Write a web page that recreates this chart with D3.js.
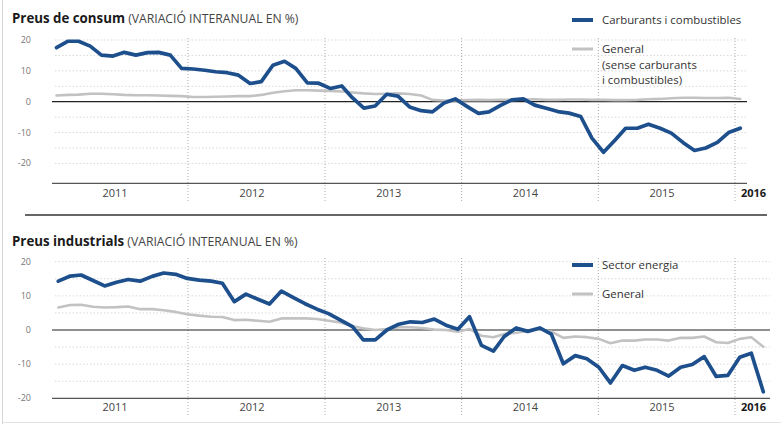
<!DOCTYPE html>
<html>
<head>
<meta charset="utf-8">
<script src="https://cdn.jsdelivr.net/npm/d3@7"></script>
<style>
  html, body { margin: 0; padding: 0; background: #fff; }
  svg { display: block; font-family: "Open Sans", "Noto Sans", sans-serif; }
</style>
</head>
<body>
<svg id="chart" width="781" height="424"></svg>
<script>
// ---------- DATA ----------
const years = ["2011", "2012", "2013", "2014", "2015"];
const lastYear = "2016";
const yTicks = [20, 10, 0, -10, -20];
const gridValues = [20, 15, 10, 5, -5, -10, -15, -20];

// Monthly, Jan 2011 .. Jan 2016
const consumFuel = [
  17.5, 19.6, 19.6, 18.0, 15.1, 14.8, 16.0, 15.1, 15.9, 16.0, 15.1, 10.8,
  10.6, 10.2, 9.7, 9.4, 8.6, 5.9, 6.5, 11.8, 13.1, 10.8, 6.1, 6.0,
  4.3, 5.1, 1.3, -2.1, -1.4, 2.4, 1.8, -1.7, -2.9, -3.3, -0.4, 0.9,
  -1.5, -3.8, -3.3, -1.2, 0.6, 0.9, -1.1, -2.1, -3.2, -3.7, -4.8, -11.8,
  -16.4, -12.4, -8.6, -8.6, -7.3, -8.6, -10.2, -13.2, -15.8, -15.0, -13.2, -10.0,
  -8.6
];
const consumGeneral = [
  2.0, 2.2, 2.3, 2.6, 2.6, 2.4, 2.2, 2.1, 2.1, 2.0, 1.9, 1.8,
  1.5, 1.5, 1.6, 1.7, 1.8, 1.8, 2.2, 2.9, 3.4, 3.7, 3.7, 3.6,
  3.5, 3.3, 3.0, 2.7, 2.5, 2.6, 2.7, 2.5, 2.0, 0.6, 0.4, 0.4,
  0.5, 0.6, 0.5, 0.6, 0.6, 0.7, 0.8, 0.6, 0.6, 0.7, 0.7, 0.6,
  0.6, 0.5, 0.5, 0.6, 0.8, 0.9, 1.1, 1.3, 1.3, 1.2, 1.2, 1.3,
  0.9
];
const industEnergy = [
  14.3, 15.8, 16.1, 14.5, 12.9, 14.0, 14.8, 14.3, 15.7, 16.7, 16.3, 15.1,
  14.6, 14.3, 13.7, 8.3, 10.5, 9.0, 7.6, 11.4, 9.5, 7.7, 6.1, 4.8,
  2.9, 1.0, -2.9, -2.9, 0.0, 1.7, 2.4, 2.2, 3.2, 1.4, 0.2, 3.9,
  -4.5, -6.2, -1.9, 0.6, -0.4, 0.6, -1.2, -9.9, -7.5, -8.4, -10.9, -15.5,
  -10.4, -11.8, -10.9, -11.8, -13.5, -10.9, -10.1, -7.8, -13.6, -13.3, -8.0, -6.8,
  -18.1
];
const industGeneral = [
  6.6, 7.3, 7.4, 6.8, 6.6, 6.7, 6.9, 6.1, 6.1, 5.8, 5.3, 4.6,
  4.2, 3.9, 3.8, 2.9, 3.0, 2.7, 2.4, 3.4, 3.4, 3.4, 3.2, 2.7,
  2.2, 1.1, 0.5, 0.0, 0.3, 0.8, 0.8, 0.6, 0.1, 0.0, -0.5, 0.3,
  -1.7, -2.1, -1.2, -0.8, -0.3, 0.2, -0.5, -2.3, -1.9, -2.1, -2.6, -3.9,
  -3.1, -3.1, -2.8, -2.8, -3.1, -2.3, -2.3, -1.9, -3.6, -3.8, -2.6, -2.1,
  -4.9
];

const months = d3.range(consumFuel.length).map(i => new Date(2011, i, 15));

const panels = [
  {
    title: "Preus de consum", sub: "(VARIACIÓ INTERANUAL EN %)",
    titleY: 23, yTop: 40, yBot: 163.4, axisVal: -26.5, xEnd: 747,
    dataRange: [56.5, 740.2],
    series: [
      { values: consumGeneral, color: "#c2c2c2", width: 2.6 },
      { values: consumFuel, color: "#1d4f8c", width: 3.7 }
    ],
    legend: [
      { lines: ["Carburants i combustibles"], color: "#1d4f8c", width: 4, y: 20 },
      { lines: ["General", "(sense carburants", "i combustibles)"], color: "#c2c2c2", width: 3, y: 49 }
    ],
    vTop: 38, vBot: 201, labelY: 197
  },
  {
    title: "Preus industrials", sub: "(VARIACIÓ INTERANUAL EN %)",
    titleY: 246, yTop: 261.7, yBot: 398.3, axisVal: -20, xEnd: 770,
    dataRange: [58.3, 763.3],
    series: [
      { values: industGeneral, color: "#c2c2c2", width: 2.6 },
      { values: industEnergy, color: "#1d4f8c", width: 3.7 }
    ],
    legend: [
      { lines: ["Sector energia"], color: "#1d4f8c", width: 4, y: 265 },
      { lines: ["General"], color: "#c2c2c2", width: 3, y: 294 }
    ],
    vTop: 258, vBot: 415, labelY: 411
  }
];

const svg = d3.select("#chart");

// frame
svg.append("line").attr("x1", 2.5).attr("x2", 2.5).attr("y1", 0).attr("y2", 424)
  .attr("stroke", "#d6d6d6").attr("stroke-width", 1);
svg.append("line").attr("x1", 2.5).attr("x2", 781).attr("y1", 422.5).attr("y2", 422.5)
  .attr("stroke", "#e2e2e2").attr("stroke-width", 1);
// separator
svg.append("line").attr("x1", 25).attr("x2", 767).attr("y1", 215).attr("y2", 215)
  .attr("stroke", "#333").attr("stroke-width", 1.6);

// shared calendar scale for year separators and labels
const xYear = d3.scaleTime()
  .domain([new Date(2011, 0, 1), new Date(2016, 0, 1)])
  .range([51.25, 735]);

panels.forEach(p => {
  const y = d3.scaleLinear().domain([-20, 20]).range([p.yBot, p.yTop]);
  const xData = d3.scaleTime().domain([months[0], months[months.length - 1]]).range(p.dataRange);
  const g = svg.append("g");

  // title
  const t = g.append("text").attr("x", 12).attr("y", p.titleY);
  t.append("tspan").text(p.title).attr("font-weight", 700).attr("font-size", 13.3).attr("fill", "#1a1a1a");
  t.append("tspan").text(" " + p.sub).attr("font-size", 12.2).attr("fill", "#444");

  // grid
  g.selectAll(".grid").data(gridValues).join("line")
    .attr("x1", 55).attr("x2", p.xEnd)
    .attr("y1", d => y(d)).attr("y2", d => y(d))
    .attr("stroke", "#d9d9d9").attr("stroke-width", 1).attr("stroke-dasharray", "1.5,2");

  // year separators
  const seps = d3.range(2012, 2017).map(yr => new Date(yr, 0, 1));
  g.selectAll(".sep").data(seps).join("line")
    .attr("x1", d => xYear(d)).attr("x2", d => xYear(d))
    .attr("y1", p.vTop).attr("y2", p.vBot)
    .attr("stroke", "#aaa").attr("stroke-width", 1).attr("stroke-dasharray", "1,2");

  // y tick labels
  g.selectAll(".yt").data(yTicks).join("text")
    .attr("x", 31).attr("y", d => y(d) + 3)
    .attr("text-anchor", "end").attr("font-size", 9).attr("fill", "#777")
    .text(d => d);

  // zero line
  g.append("line").attr("x1", 52).attr("x2", p.xEnd).attr("y1", y(0)).attr("y2", y(0))
    .attr("stroke", "#222").attr("stroke-width", 1.2);

  // bottom axis
  g.append("line").attr("x1", 52).attr("x2", p.xEnd)
    .attr("y1", y(p.axisVal)).attr("y2", y(p.axisVal))
    .attr("stroke", "#555").attr("stroke-width", 1.2);

  // year labels
  g.selectAll(".yl").data(years).join("text")
    .attr("x", d => xYear(new Date(+d, 6, 1)) - 4)
    .attr("y", p.labelY)
    .attr("text-anchor", "middle").attr("font-size", 11).attr("fill", "#444")
    .text(d => d);
  g.append("text").attr("x", 753.5).attr("y", p.labelY)
    .attr("text-anchor", "middle").attr("font-size", 11).attr("font-weight", 700).attr("fill", "#1a1a1a")
    .text(lastYear);

  // series
  const line = d3.line().x((d, i) => xData(months[i])).y(d => y(d)).curve(d3.curveLinear);
  p.series.forEach(s => {
    g.append("path").datum(s.values).attr("d", line)
      .attr("fill", "none").attr("stroke", s.color).attr("stroke-width", s.width)
      .attr("stroke-linejoin", "round").attr("stroke-linecap", "round");
  });

  // legend
  p.legend.forEach(l => {
    g.append("line").attr("x1", 572).attr("x2", 593).attr("y1", l.y).attr("y2", l.y)
      .attr("stroke", l.color).attr("stroke-width", l.width);
    const lt = g.append("text").attr("x", 602).attr("y", l.y + 4)
      .attr("font-size", 11.4).attr("fill", "#333");
    l.lines.forEach((ln, k) => {
      lt.append("tspan").attr("x", 602).attr("dy", k === 0 ? 0 : 15.6).text(ln);
    });
  });
});
</script>
</body>
</html>
